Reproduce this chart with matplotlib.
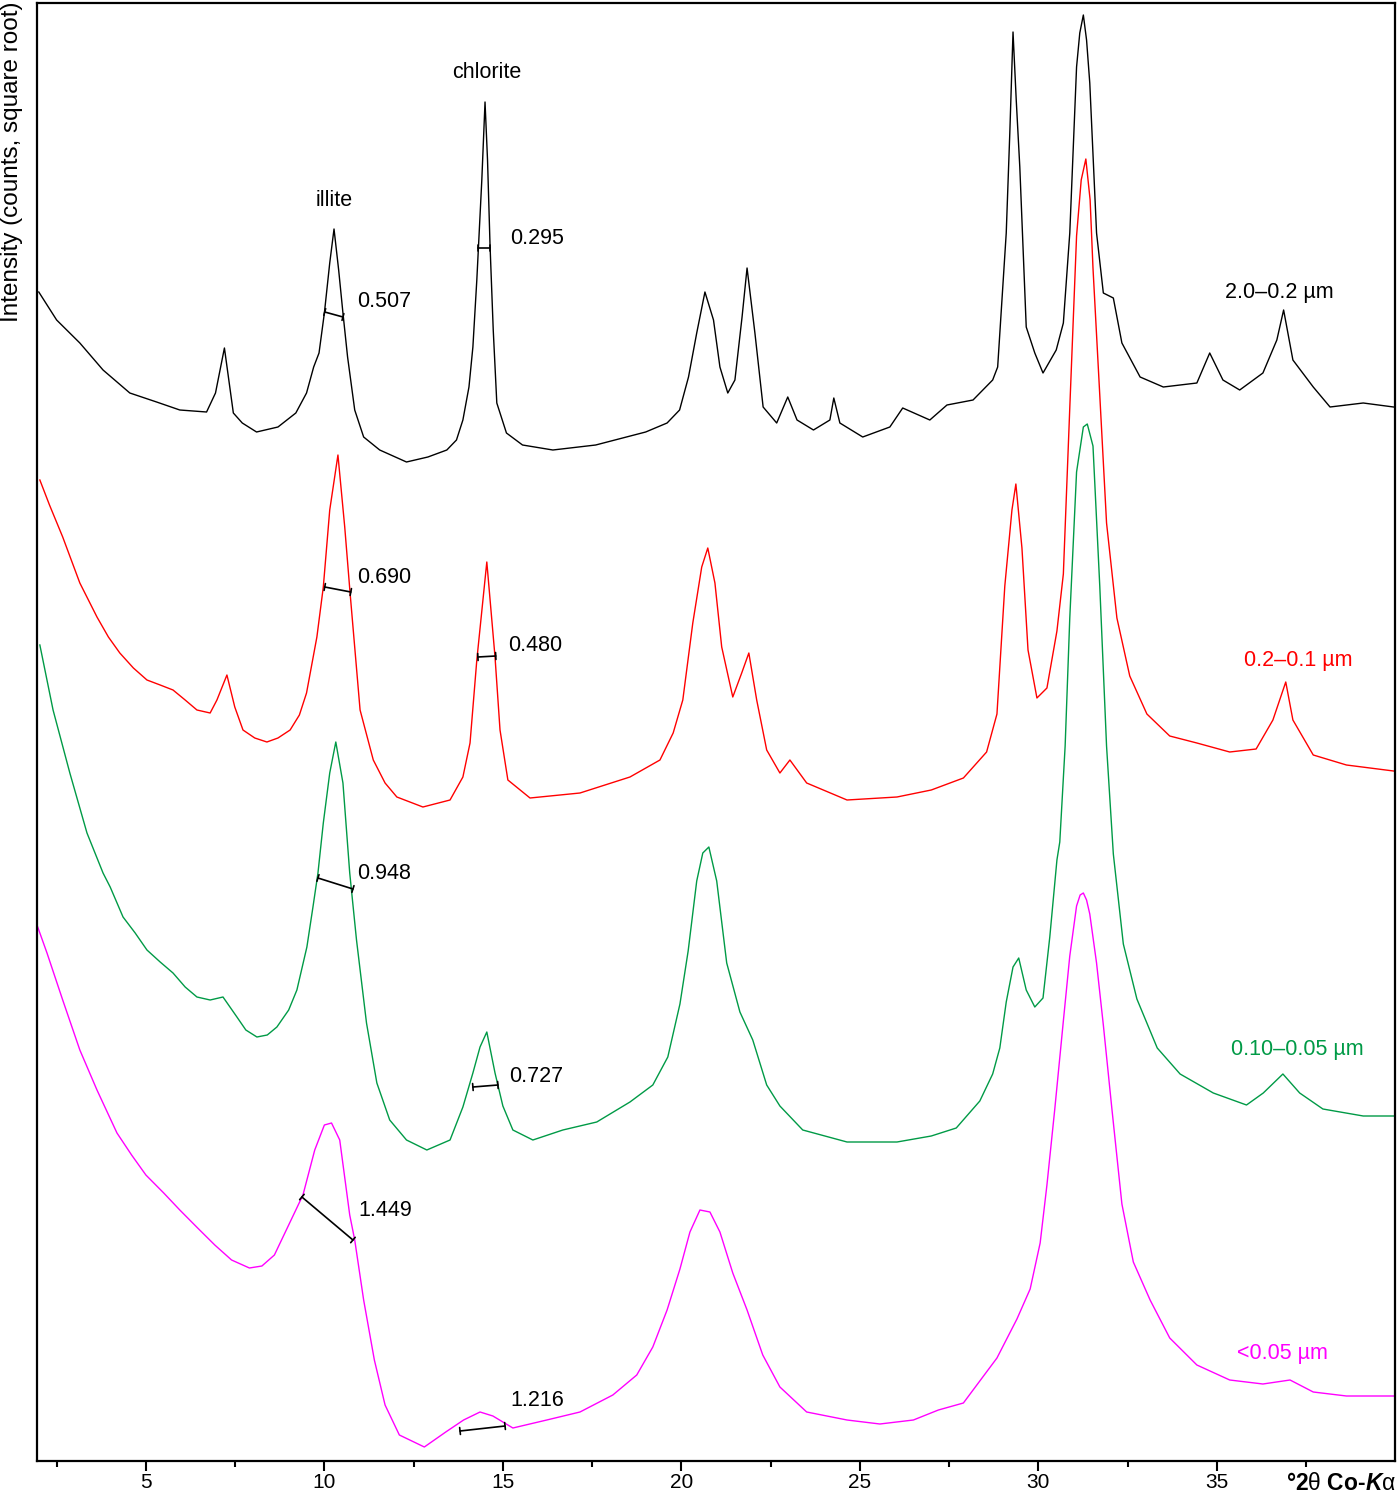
import numpy as np
import matplotlib
matplotlib.use("Agg")
import matplotlib.pyplot as plt

plt.rcParams['font.family'] = ['Liberation Sans', 'DejaVu Sans']
plt.rcParams['mathtext.fontset'] = 'custom'
plt.rcParams['mathtext.rm'] = 'Liberation Sans'
plt.rcParams['mathtext.it'] = 'Liberation Sans:italic'
plt.rcParams['mathtext.bf'] = 'Liberation Sans:bold:italic'

# XRD traces: position in deg 2theta, intensity in arbitrary (stacked) units
black_x = [2.0, 2.5, 3.15, 3.8, 4.55, 5.3, 5.95, 6.7, 6.95, 7.2, 7.45, 7.7, 8.1, 8.7, 9.2, 9.5, 9.7,
           9.85, 10.0, 10.15, 10.27, 10.4, 10.52, 10.65, 10.85, 11.1, 11.55, 12.3, 12.9, 13.43, 13.7,
           13.88, 14.05, 14.16, 14.27, 14.41, 14.5, 14.57, 14.64, 14.73, 14.83, 15.1, 15.55, 16.4,
           17.6, 19.0, 19.6, 19.95, 20.2, 20.43, 20.66, 20.9, 21.08, 21.3, 21.5, 21.7, 21.84, 22.06,
           22.29, 22.67, 22.98, 23.24, 23.7, 24.16, 24.27, 24.44, 25.08, 25.84, 26.2, 26.96, 27.44,
           28.17, 28.72, 28.86, 29.1, 29.2, 29.29, 29.38, 29.48, 29.66, 29.9, 30.13, 30.5, 30.7,
           30.88, 31.07, 31.16, 31.26, 31.35, 31.44, 31.63, 31.82, 32.1, 32.34, 32.85, 33.5, 34.44,
           34.8, 35.17, 35.64, 36.29, 36.68, 36.87, 37.13, 37.7, 38.17, 39.1, 39.95]
black_y = [1188, 1160, 1137, 1110, 1087, 1078, 1070, 1068, 1087, 1132, 1067, 1057, 1048, 1053, 1067,
           1087, 1113, 1127, 1167, 1217, 1251, 1210, 1167, 1123, 1070, 1043, 1030, 1018, 1023, 1030,
           1040, 1060, 1093, 1133, 1200, 1300, 1378, 1320, 1235, 1150, 1077, 1047, 1035, 1030, 1035,
           1048, 1057, 1070, 1103, 1147, 1188, 1160, 1113, 1087, 1100, 1163, 1212, 1147, 1073, 1057,
           1083, 1060, 1050, 1060, 1082, 1057, 1043, 1053, 1072, 1060, 1075, 1080, 1100, 1113, 1247,
           1347, 1448, 1380, 1313, 1153, 1127, 1107, 1130, 1157, 1247, 1413, 1447, 1465, 1440, 1397,
           1247, 1187, 1182, 1137, 1103, 1093, 1097, 1127, 1100, 1090, 1107, 1140, 1170, 1120, 1093,
           1073, 1077, 1073]

red_x = [2.03, 2.3, 2.67, 3.15, 3.63, 3.95, 4.27, 4.65, 5.03, 5.4, 5.76, 6.1, 6.43, 6.8, 6.99,
         7.27, 7.49, 7.72, 8.05, 8.39, 8.7, 9.04, 9.3, 9.5, 9.79, 9.97, 10.15, 10.38, 10.57, 10.72,
         11.0, 11.37, 11.7, 12.03, 12.76, 13.52, 13.88, 14.08, 14.27, 14.55, 14.78, 14.92, 15.14,
         15.76, 17.16, 18.56, 19.4, 19.77, 20.04, 20.32, 20.57, 20.74, 20.94, 21.13, 21.44, 21.69,
         21.89, 22.11, 22.39, 22.76, 23.04, 23.51, 24.64, 26.04, 27.0, 27.9, 28.55, 28.84, 29.06,
         29.26, 29.37, 29.54, 29.71, 29.96, 30.24, 30.52, 30.7, 30.88, 31.07, 31.2, 31.33, 31.45,
         31.53, 31.72, 31.91, 32.2, 32.56, 33.04, 33.68, 34.44, 35.36, 36.1, 36.57, 36.93, 37.13,
         37.7, 38.63, 39.95]
red_y = [1000, 975, 943, 897, 863, 843, 827, 812, 800, 795, 790, 780, 770, 767, 780, 805, 773, 750,
         742, 738, 742, 750, 765, 787, 843, 893, 970, 1025, 953, 887, 770, 720, 697, 683, 673, 680,
         703, 737, 820, 918, 823, 750, 700, 682, 687, 703, 720, 747, 780, 857, 913, 932, 897, 833,
         783, 807, 827, 780, 730, 707, 720, 697, 680, 683, 690, 702, 728, 766, 894, 970, 996, 932,
         830, 782, 792, 849, 906, 1072, 1244, 1300, 1321, 1280, 1212, 1085, 957, 862, 804, 766,
         744, 737, 728, 731, 760, 798, 760, 725, 715, 709]

green_x = [2.03, 2.4, 2.87, 3.35, 3.8, 4.0, 4.36, 4.7, 5.03, 5.4, 5.76, 6.1, 6.43, 6.8, 7.16, 7.55,
           7.8, 8.11, 8.4, 8.67, 9.0, 9.23, 9.51, 9.68, 9.82, 9.97, 10.15, 10.32, 10.52, 10.71, 10.9,
           11.18, 11.47, 11.83, 12.3, 12.87, 13.52, 13.88, 14.16, 14.36, 14.55, 14.78, 15.0, 15.28,
           15.84, 16.68, 17.63, 18.56, 19.2, 19.62, 19.96, 20.19, 20.43, 20.6, 20.77, 20.99, 21.27,
           21.64, 22.0, 22.39, 22.76, 23.4, 24.64, 26.04, 27.0, 27.7, 28.36, 28.72, 28.92, 29.1,
           29.29, 29.45, 29.66, 29.9, 30.13, 30.32, 30.52, 30.6, 30.75, 30.88, 31.07, 31.26, 31.37,
           31.53, 31.72, 31.91, 32.1, 32.38, 32.76, 33.33, 33.97, 34.9, 35.83, 36.3, 36.85, 37.32,
           37.97, 39.1, 39.95]
green_y = [835, 770, 707, 647, 607, 593, 563, 547, 530, 518, 507, 493, 483, 480, 483, 463, 450, 443,
           445, 453, 470, 490, 533, 573, 607, 657, 707, 738, 697, 607, 540, 457, 397, 360, 340, 330,
           340, 373, 407, 433, 448, 407, 374, 350, 340, 350, 358, 378, 395, 423, 476, 529, 599, 627,
           633, 599, 517, 468, 440, 395, 374, 350, 338, 338, 344, 352, 379, 406, 432, 478, 513, 522,
           490, 473, 482, 543, 620, 638, 734, 862, 1008, 1053, 1056, 1034, 894, 734, 626, 536, 481,
           432, 406, 387, 375, 387, 406, 387, 371, 364, 364]

magenta_x = [1.97, 2.23, 2.67, 3.15, 3.63, 4.19, 4.6, 5.0, 5.5, 5.95, 6.45, 6.93, 7.4, 7.9, 8.25,
             8.6, 9.0, 9.4, 9.73, 10.0, 10.2, 10.43, 10.71, 10.85, 11.1, 11.4, 11.7, 12.1, 12.8,
             13.4, 13.9, 14.36, 14.72, 15.28, 16.23, 17.16, 18.08, 18.75, 19.2, 19.6, 19.96, 20.24,
             20.52, 20.8, 21.08, 21.44, 21.84, 22.28, 22.76, 23.51, 24.64, 25.56, 26.5, 27.2, 27.9,
             28.84, 29.4, 29.77, 30.05, 30.24, 30.46, 30.7, 30.88, 31.07, 31.17, 31.26, 31.35, 31.44,
             31.63, 31.82, 32.06, 32.34, 32.66, 33.13, 33.68, 34.44, 35.36, 36.29, 37.05, 37.7,
             38.63, 39.95]
magenta_y = [553, 527, 480, 430, 390, 347, 325, 305, 287, 270, 252, 235, 220, 212, 214, 225, 255,
             285, 330, 355, 357, 340, 265, 240, 180, 120, 75, 45, 33, 48, 60, 68, 64, 52, 60, 68, 85,
             105, 133, 170, 211, 248, 270, 268, 248, 207, 170, 125, 93, 68, 60, 56, 60, 70, 77, 122,
             161, 191, 237, 295, 371, 459, 524, 574, 585, 587, 580, 566, 517, 455, 371, 276, 218,
             180, 142, 115, 100, 96, 100, 88, 84, 84]

series = [
    (black_x, black_y, 'black', '2.0–0.2 µm', 36.76, 1188),
    (red_x, red_y, '#ff0000', '0.2–0.1 µm', 37.27, 820),
    (green_x, green_y, '#009a46', '0.10–0.05 µm', 37.24, 431),
    (magenta_x, magenta_y, '#ff00ff', '<0.05 µm', 36.85, 126),
]

# FWHM markers: (x1, y1, x2, y2, label, label_x, label_y)
fwhm = [
    (10.01, 1168, 10.52, 1163, '0.507', 10.91, 1179),
    (14.30, 1232, 14.64, 1232, '0.295', 15.20, 1242),
    (10.01, 893, 10.74, 888, '0.690', 10.91, 903),
    (14.30, 823, 14.80, 824, '0.480', 15.14, 835),
    (9.82, 602, 10.80, 591, '0.948', 10.91, 607),
    (14.16, 393, 14.86, 395, '0.727', 15.17, 403),
    (9.37, 283, 10.80, 240, '1.449', 10.94, 269),
    (13.80, 49, 15.06, 54, '1.216', 15.20, 79),
]

fig = plt.figure(figsize=(14, 14.97), dpi=100)
ax = fig.add_axes([37 / 1400, 1 - 1461 / 1497, (1395 - 37) / 1400, (1461 - 3) / 1497])

for x, y, color, label, lx, ly in series:
    ax.plot(x, y, color=color, lw=1.0)
    ax.text(lx, ly, label, color=color, fontsize=15.5, ha='center', va='center')

for x1, y1, x2, y2, label, tx, ty in fwhm:
    ax.annotate('', xy=(x2, y2), xytext=(x1, y1),
                arrowprops=dict(arrowstyle='|-|,widthA=0.25,widthB=0.25', color='black',
                                lw=1.2, shrinkA=0, shrinkB=0))
    ax.text(tx, ty, label, fontsize=15.5, ha='left', va='center')

ax.text(10.27, 1280, 'illite', fontsize=15.5, ha='center', va='center')
ax.text(14.55, 1408, 'chlorite', fontsize=15.5, ha='center', va='center')

ax.set_xlim(1.95, 39.99)
ax.set_ylim(19, 1477)

# long ticks at labelled positions, short ones in between
ax.set_xticks([5, 10, 15, 20, 25, 30, 35])
ax.set_xticks([2.5, 7.5, 12.5, 17.5, 22.5, 27.5, 32.5, 37.5], minor=True)
ax.tick_params(axis='x', which='major', direction='out', length=7, width=1.5, labelsize=15, pad=2)
ax.tick_params(axis='x', which='minor', direction='out', length=4.5, width=1.5)
ax.set_yticks([])
for s in ax.spines.values():
    s.set_linewidth(1.6)

fig.text(1396 / 1400, 1 - 1483 / 1497, r'°2$\mathrm{θ}$ Co-$\mathbf{K}$$\mathrm{α}$',
         fontsize=16.5, fontweight='bold', ha='right', va='center')
fig.text(12 / 1400, 1 - 1 / 1497, 'Intensity (counts, square root)', rotation=90,
         fontsize=17.5, ha='center', va='top')

fig.savefig('out.png', dpi=100)
plt.close(fig)
